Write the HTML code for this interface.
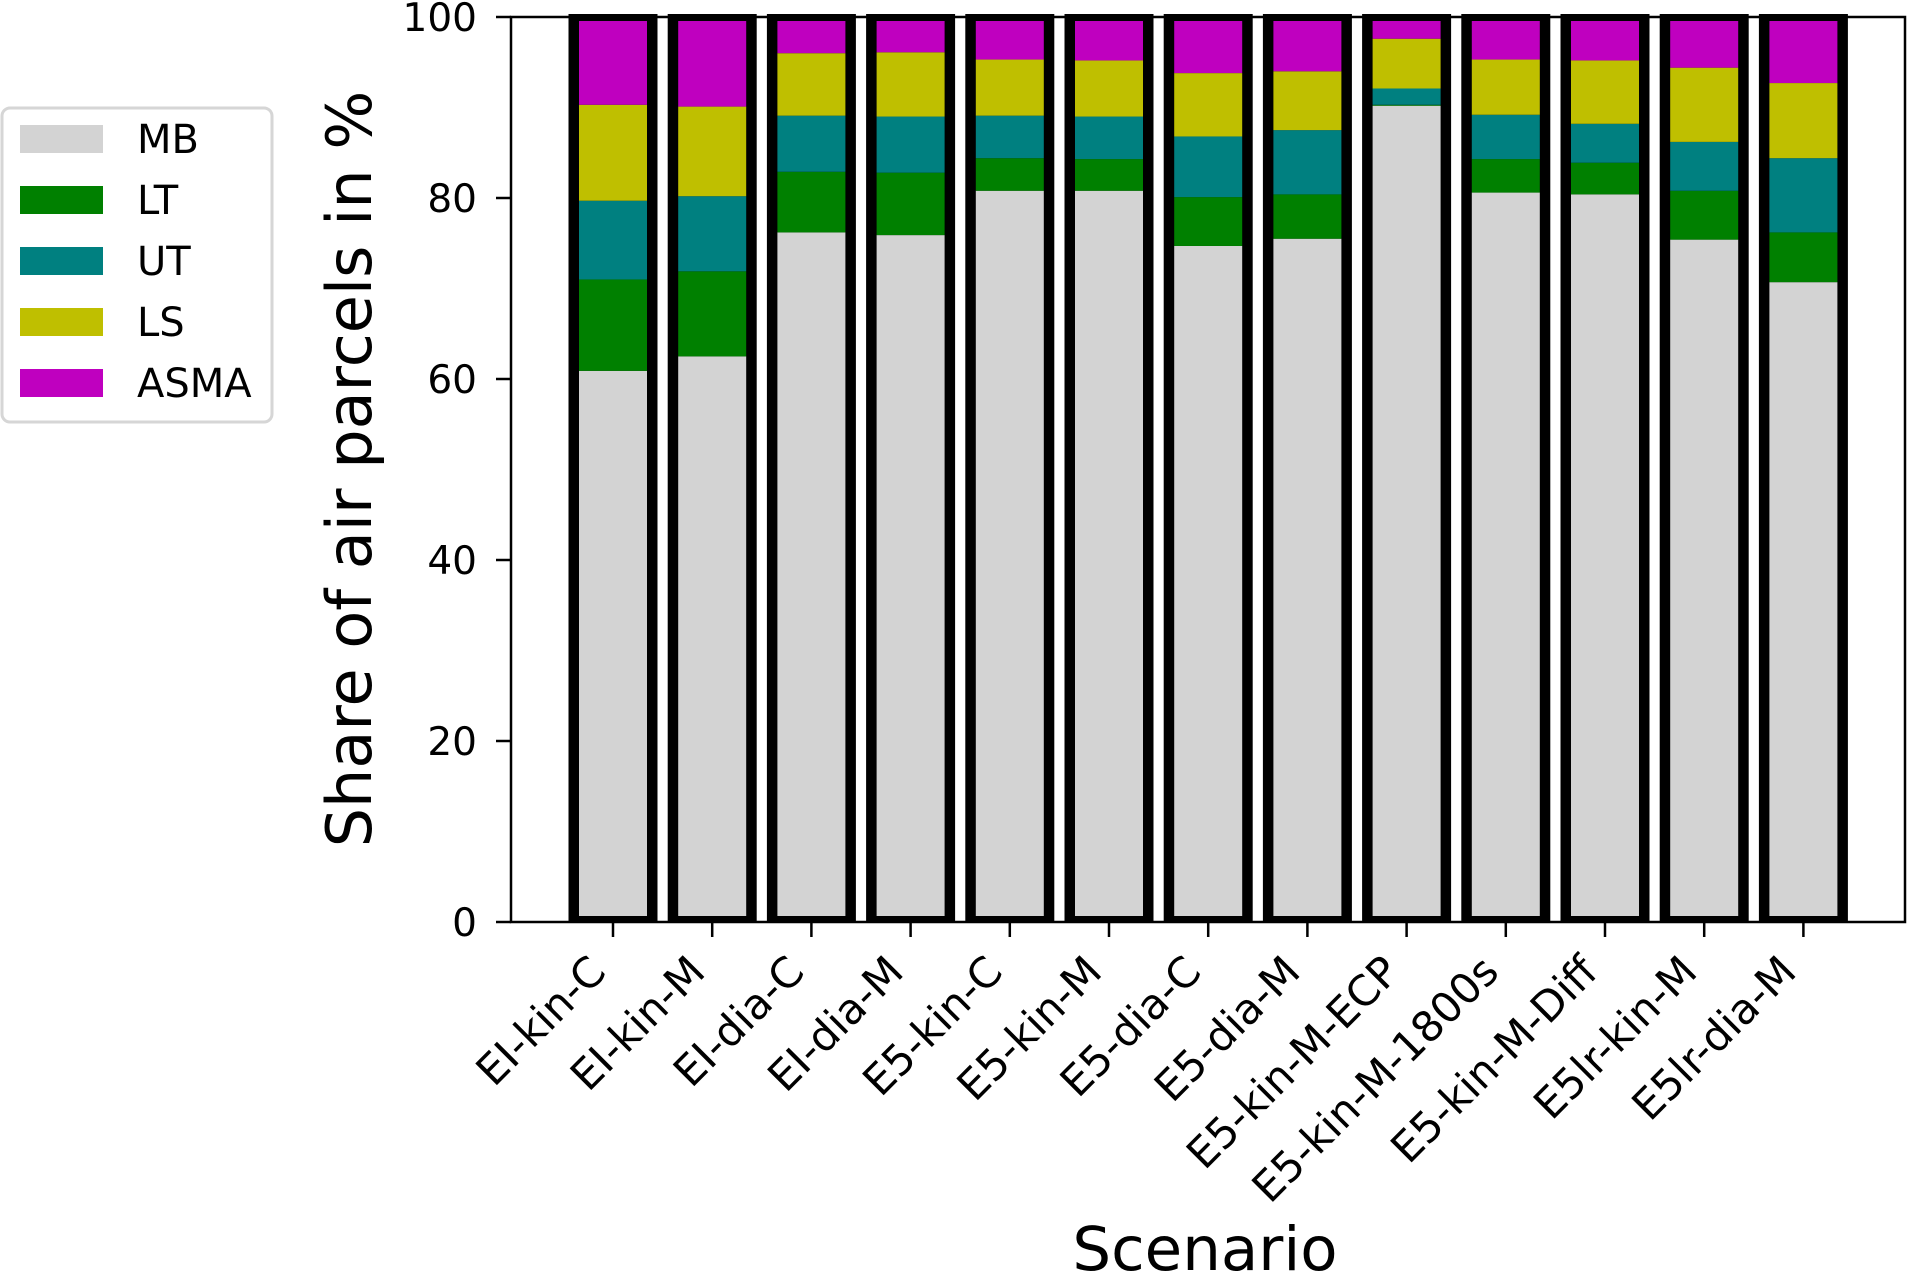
<!DOCTYPE html>
<html><head><meta charset="utf-8"><style>
html,body{margin:0;padding:0;background:#fff;}
svg{display:block;font-family:"DejaVu Sans","Liberation Sans",sans-serif;}
</style></head><body>
<svg id="chart" width="1908" height="1273" viewBox="0 0 1908 1273" xmlns="http://www.w3.org/2000/svg">
<g id="bars"></g>
<g id="axes"></g>
<g id="legend">
<rect x="2" y="108" width="270" height="314" rx="8" fill="#fff" stroke="#d6d6d6" stroke-width="3"/>
</g>
<text transform="translate(371,469) rotate(-90)" text-anchor="middle" font-size="62">Share of air parcels in %</text>
<text x="1205" y="1270" text-anchor="middle" font-size="61">Scenario</text>
</svg>
<script>
const categories = ["EI-kin-C","EI-kin-M","EI-dia-C","EI-dia-M","E5-kin-C","E5-kin-M","E5-dia-C","E5-dia-M","E5-kin-M-ECP","E5-kin-M-1800s","E5-kin-M-Diff","E5lr-kin-M","E5lr-dia-M"];
const seriesNames = ["MB","LT","UT","LS","ASMA"];
const MB   = [60.9,62.5,76.2,75.9,80.8,80.8,74.7,75.5,90.2,80.6,80.4,75.4,70.7];
const LT   = [10.1, 9.4, 6.7, 6.9, 3.6, 3.5, 5.4, 4.9, 0.1, 3.7, 3.5, 5.4, 5.5];
const UT   = [ 8.7, 8.3, 6.2, 6.2, 4.7, 4.7, 6.7, 7.1, 1.8, 4.9, 4.3, 5.4, 8.2];
const LS   = [10.6, 9.9, 6.9, 7.1, 6.2, 6.2, 7.0, 6.5, 5.5, 6.1, 7.0, 8.2, 8.3];
const ASMA = [ 9.7, 9.9, 4.0, 3.9, 4.7, 4.8, 6.2, 6.0, 2.4, 4.7, 4.8, 5.6, 7.3];
const yTicks = [0,20,40,60,80,100];
const colors = ["#d3d3d3","#008000","#008080","#bfbf00","#bf00bf"];

const NS="http://www.w3.org/2000/svg";
const X0=511, X1=1905, Y0=922, Y100=17;
const yScale=v=>Y0+(Y100-Y0)*v/100;
const xScale=i=>613+i*99.2;
function mk(tag,attrs,parent){const e=document.createElementNS(NS,tag);for(const k in attrs)e.setAttribute(k,attrs[k]);parent.appendChild(e);return e;}
const bars=document.getElementById('bars'), axes=document.getElementById('axes'), legend=document.getElementById('legend');
const series=[MB,LT,UT,LS,ASMA];
categories.forEach((c,i)=>{
  const cx=xScale(i);
  const g=mk('g',{},bars);
  
  
  const outline=mk('rect',{x:cx-44.5,y:14,width:89,height:Y0-14,fill:'#000'},g);
  
  
  let cum=0;
  series.forEach((s,k)=>{
    const v0=cum, v1=cum+s[i]; cum=v1;
    let yt=Math.max(yScale(v1),21), yb=Math.min(yScale(v0),916);
    if(yb<=yt) return;
    const r=mk('rect',{x:cx-34,y:yt,width:68,height:yb-yt,fill:colors[k]},g);
    
    
  });
});
const fr=mk('rect',{x:X0,y:Y100,width:X1-X0,height:Y0-Y100,fill:'none',stroke:'#000','stroke-width':2.5},axes);


yTicks.forEach(t=>{
  const y=yScale(t);
  const l=mk('line',{x1:X0-15,x2:X0,y1:y,y2:y,stroke:'#000','stroke-width':2.5},axes);
  
  
  const tx=mk('text',{x:477,y:y+14,'text-anchor':'end','font-size':39},axes);
  tx.textContent=t;
  
  
});
categories.forEach((c,i)=>{
  const x=xScale(i);
  const l=mk('line',{x1:x,x2:x,y1:Y0,y2:Y0+15,stroke:'#000','stroke-width':2.5},axes);
  
  
  const tx=mk('text',{transform:`translate(${x-5},${Y0+52}) rotate(-45)`,'text-anchor':'end','font-size':42},axes);
  tx.textContent=c;
  
  
});
seriesNames.forEach((n,k)=>{
  const cy=139+k*61;
  const r=mk('rect',{x:20,y:cy-14,width:83,height:28,fill:colors[k]},legend);
  
  
  const t=mk('text',{x:137,y:cy+14,'font-size':40},legend);
  t.textContent=n;
  
  
});
</script>
</body></html>
